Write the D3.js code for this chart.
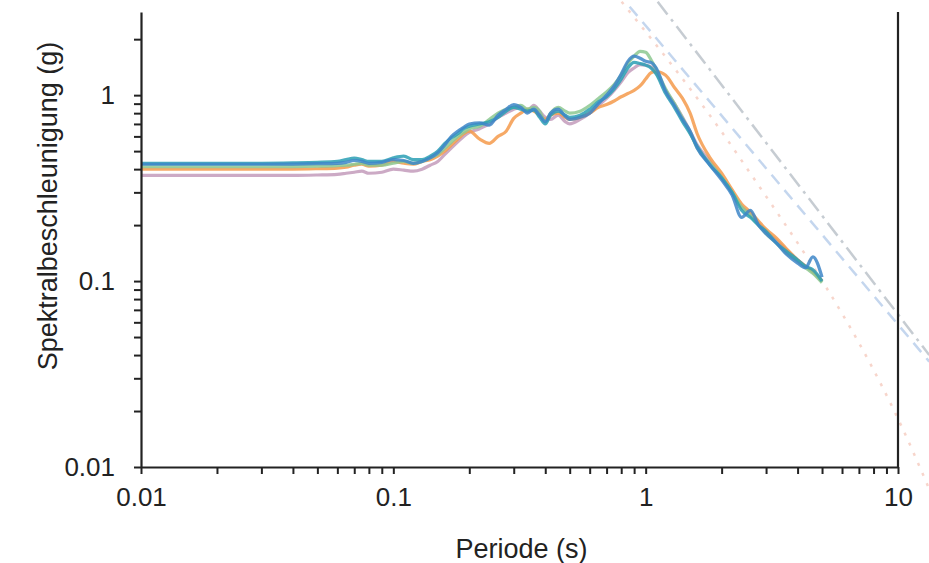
<!DOCTYPE html>
<html>
<head>
<meta charset="utf-8">
<script src="https://cdn.jsdelivr.net/npm/d3@7"></script>
<style>
  body { margin: 0; background: #fff; }
  text { font-family: "Liberation Sans", Arial, sans-serif; fill: #222; }
</style>
</head>
<body>
<svg id="chart" width="929" height="563"></svg>
<script>
// periods (s)
const periods = [0.01, 0.02, 0.03, 0.04, 0.05, 0.06, 0.065, 0.07, 0.075, 0.08,
  0.09, 0.1, 0.11, 0.12, 0.13, 0.14, 0.15, 0.16, 0.17, 0.18,
  0.19, 0.2, 0.22, 0.24, 0.26, 0.28, 0.3, 0.32, 0.34, 0.36,
  0.38, 0.4, 0.42, 0.45, 0.48, 0.5, 0.55, 0.6, 0.65, 0.7,
  0.75, 0.8, 0.85, 0.9, 0.95, 1.0, 1.05, 1.1, 1.2, 1.3,
  1.4, 1.5, 1.6, 1.8, 2.0, 2.2, 2.4, 2.6, 2.8, 3.0,
  3.3, 3.6, 4.0, 4.3, 4.6, 5.0];

// spectral acceleration (g) per record
const saBlue = [0.425, 0.425, 0.425, 0.426, 0.428, 0.43, 0.435, 0.445, 0.44, 0.43,
  0.435, 0.45, 0.445, 0.43, 0.44, 0.46, 0.49, 0.54, 0.60, 0.64,
  0.67, 0.70, 0.71, 0.69, 0.78, 0.84, 0.89, 0.86, 0.80, 0.84,
  0.78, 0.72, 0.80, 0.84, 0.77, 0.74, 0.76, 0.80, 0.90, 1.00,
  1.12, 1.30, 1.52, 1.62, 1.58, 1.52, 1.50, 1.40, 1.05, 0.88,
  0.74, 0.64, 0.52, 0.42, 0.35, 0.29, 0.22, 0.24, 0.20, 0.18,
  0.16, 0.14, 0.125, 0.118, 0.135, 0.105];
const saTeal = [0.43, 0.43, 0.43, 0.432, 0.435, 0.44, 0.45, 0.458, 0.45, 0.44,
  0.44, 0.46, 0.47, 0.45, 0.45, 0.47, 0.50, 0.55, 0.59, 0.62,
  0.66, 0.68, 0.70, 0.72, 0.76, 0.82, 0.86, 0.84, 0.82, 0.83,
  0.76, 0.70, 0.78, 0.82, 0.78, 0.76, 0.78, 0.84, 0.92, 0.98,
  1.08, 1.22, 1.40, 1.50, 1.48, 1.45, 1.40, 1.30, 1.02, 0.86,
  0.72, 0.62, 0.53, 0.42, 0.36, 0.30, 0.24, 0.22, 0.20, 0.185,
  0.16, 0.145, 0.13, 0.12, 0.115, 0.10];
const saGreen = [0.412, 0.412, 0.412, 0.413, 0.415, 0.418, 0.42, 0.425, 0.43, 0.42,
  0.42, 0.43, 0.44, 0.43, 0.44, 0.46, 0.48, 0.52, 0.56, 0.60,
  0.63, 0.66, 0.68, 0.74, 0.80, 0.84, 0.86, 0.88, 0.84, 0.86,
  0.82, 0.72, 0.80, 0.86, 0.82, 0.80, 0.82, 0.88, 0.96, 1.04,
  1.14, 1.28, 1.48, 1.62, 1.72, 1.70, 1.55, 1.38, 1.08, 0.90,
  0.75, 0.63, 0.52, 0.43, 0.36, 0.30, 0.25, 0.225, 0.20, 0.18,
  0.16, 0.142, 0.128, 0.118, 0.11, 0.098];
const saOrange = [0.40, 0.40, 0.40, 0.40, 0.402, 0.405, 0.41, 0.42, 0.425, 0.415,
  0.42, 0.44, 0.43, 0.425, 0.44, 0.45, 0.47, 0.50, 0.54, 0.58,
  0.62, 0.64, 0.58, 0.55, 0.60, 0.64, 0.75, 0.80, 0.84, 0.82,
  0.78, 0.74, 0.78, 0.80, 0.76, 0.74, 0.76, 0.80, 0.86, 0.89,
  0.93, 0.98, 1.02, 1.06, 1.12, 1.22, 1.32, 1.34, 1.28, 1.10,
  0.96, 0.80, 0.62, 0.46, 0.38, 0.31, 0.26, 0.235, 0.21, 0.19,
  0.17, 0.15, 0.13, 0.12, 0.112, 0.10];
const saMauve = [0.37, 0.37, 0.37, 0.37, 0.372, 0.375, 0.38, 0.385, 0.39, 0.38,
  0.385, 0.40, 0.395, 0.39, 0.40, 0.42, 0.44, 0.48, 0.52, 0.56,
  0.60, 0.63, 0.66, 0.70, 0.76, 0.80, 0.84, 0.86, 0.82, 0.88,
  0.82, 0.76, 0.74, 0.78, 0.72, 0.70, 0.74, 0.80, 0.88, 0.96,
  1.06, 1.18, 1.32, 1.40, 1.46, 1.45, 1.42, 1.32, 1.06, 0.90,
  0.76, 0.64, 0.54, 0.44, 0.36, 0.30, 0.25, 0.23, 0.205, 0.185,
  0.165, 0.148, 0.13, 0.12, 0.113, 0.10];

// faint design spectra (dashed)
const greyT = [1.116, 13.3];
const greySa = [3.18, 0.040];
const blueT = [0.864, 13.3];
const blueSa = [2.99, 0.0369];
const pinkT = [0.803, 2.36, 11.5, 13.3];
const pinkSa = [3.18, 0.46, 0.012, 0.0076];

const xTicks = [0.01, 0.1, 1, 10];
const yTicks = [0.01, 0.1, 1];

const svg = d3.select('#chart');
const plotLeft = 141, plotRight = 898, plotTop = 12, plotBottom = 467;

const x = d3.scaleLog().domain([0.01, 10]).range([plotLeft, plotRight]);
const y = d3.scaleLog().domain([0.01, 2.8]).range([plotBottom, plotTop]);

const minorX = [];
[0.01, 0.1, 1].forEach(d => { for (let k = 1; k <= 9; k++) minorX.push(d * k); });
minorX.push(10);
const minorY = [];
[0.01, 0.1, 1].forEach(d => { for (let k = 1; k <= 9; k++) if (d * k <= 2.8) minorY.push(d * k); });

const toPts = (T, S) => T.map((t, i) => [t, S[i]]);
const curve = d3.line().curve(d3.curveMonotoneX).x(d => x(d[0])).y(d => y(d[1]));

// dashed reference lines
[
  { pts: toPts(greyT, greySa), color: '#8e9aa6', dash: '16,6,3,6', op: 0.5 },
  { pts: toPts(blueT, blueSa), color: '#9dbbe3', dash: '12,8', op: 0.6 },
  { pts: toPts(pinkT, pinkSa), color: '#f2b9a8', dash: '3,8', op: 0.6 }
].forEach(s => {
  svg.append('path')
    .attr('d', curve(s.pts))
    .attr('fill', 'none')
    .attr('stroke', s.color)
    .attr('stroke-width', 2.5)
    .attr('stroke-dasharray', s.dash)
    .attr('opacity', s.op);
});

// records
const series = [
  { v: saMauve, color: '#c39bbb' },
  { v: saOrange, color: '#f59a4b' },
  { v: saGreen, color: '#8cc891' },
  { v: saTeal, color: '#2a9fb4' },
  { v: saBlue, color: '#3e86c8' }
];
series.forEach(s => {
  svg.append('path')
    .attr('d', curve(toPts(periods, s.v)))
    .attr('fill', 'none')
    .attr('stroke', s.color)
    .attr('stroke-width', 3.2)
    .attr('stroke-linejoin', 'round')
    .attr('opacity', 0.85);
});

// axes
const xAxis = svg.append('g').attr('transform', `translate(0,${plotBottom})`)
  .call(d3.axisBottom(x).tickValues(minorX).tickSize(7).tickPadding(14).tickSizeOuter(0)
    .tickFormat(d => xTicks.includes(d) ? d3.format('~g')(d) : ''));
const yAxis = svg.append('g').attr('transform', `translate(${plotLeft},0)`)
  .call(d3.axisLeft(y).tickValues(minorY).tickSize(7).tickPadding(19).tickSizeOuter(0)
    .tickFormat(d => yTicks.includes(d) ? d3.format('~g')(d) : ''));
[xAxis, yAxis].forEach(a => {
  a.select('.domain').attr('stroke', '#222').attr('stroke-width', 2.2);
  a.selectAll('.tick line').attr('stroke', '#222').attr('stroke-width', 2);
  a.selectAll('.tick text').attr('font-size', 26).attr('fill', '#222')
    .attr('font-family', '"Liberation Sans", Arial, sans-serif');
});

svg.append('line')
  .attr('x1', plotRight).attr('x2', plotRight).attr('y1', plotTop).attr('y2', plotBottom)
  .attr('stroke', '#222').attr('stroke-width', 2.2);

svg.append('text')
  .attr('x', (plotLeft + plotRight) / 2 + 2).attr('y', 558)
  .attr('text-anchor', 'middle').attr('font-size', 27)
  .text('Periode (s)');

svg.append('text')
  .attr('transform', 'translate(57,206) rotate(-90)')
  .attr('text-anchor', 'middle').attr('font-size', 27)
  .text('Spektralbeschleunigung (g)');
</script>
</body>
</html>
